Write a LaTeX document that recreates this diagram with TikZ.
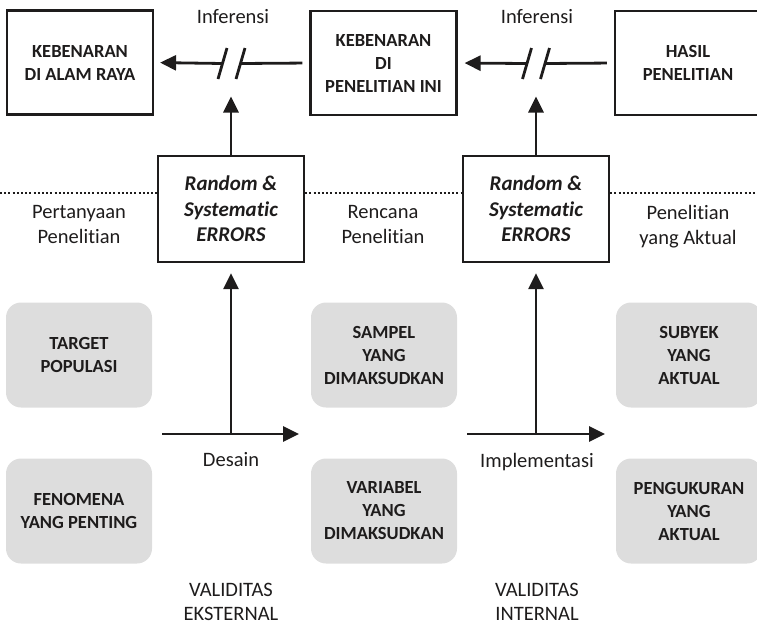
\documentclass[tikz,border=0pt]{standalone}
\usepackage{fontspec}
\setmainfont{Carlito}[Ligatures=NoCommon]
\usetikzlibrary{arrows.meta}
\definecolor{ink}{RGB}{30,28,28}
\definecolor{panel}{RGB}{221,221,221}
\tikzset{
  truthbox/.style={draw=ink, line width=2.2pt, minimum width=146pt, minimum height=104pt,
    align=center, inner sep=0pt, text=ink, font=\fontsize{18.5}{23}\selectfont\bfseries},
  errbox/.style={draw=ink, line width=2.2pt, minimum width=146pt, minimum height=106pt,
    align=center, inner sep=0pt, text=ink, font=\fontsize{21}{25.5}\selectfont\bfseries\itshape},
  stagebox/.style={fill=panel, rounded corners=15pt, minimum width=146pt, minimum height=105pt,
    align=center, inner sep=0pt, text=ink, font=\fontsize{18.5}{23}\selectfont\bfseries},
  caption/.style={align=center, inner sep=0pt, text=ink, font=\fontsize{20.5}{24.5}\selectfont},
  flow/.style={line width=2.8pt, draw=ink, -{Triangle[length=16pt,width=15pt]}},
  plain/.style={line width=2.8pt, draw=ink},
  sepline/.style={line width=2pt, draw=ink, dash pattern=on 2pt off 2.2pt}
}
\begin{document}
\begin{tikzpicture}[x=1pt, y=-1pt]
\useasboundingbox (0,0) rectangle (757,625);

% top row: where the truth lies
\node[truthbox] (b1) at (80,62.5) {KEBENARAN\\DI ALAM RAYA};
\node[truthbox] (b2) at (383.5,63) {KEBENARAN\\DI\\PENELITIAN INI};
\node[truthbox] (b3) at (688,63) {HASIL\\PENELITIAN};

% error boxes
\node[errbox] (e1) at (231,209) {Random \&\\Systematic\\ERRORS};
\node[errbox] (e2) at (536,209) {Random \&\\Systematic\\ERRORS};

% stage boxes
\node[stagebox] (s1) at (79,355) {TARGET\\POPULASI};
\node[stagebox] (s2) at (79,511) {FENOMENA\\YANG PENTING};
\node[stagebox] (s3) at (384,355) {SAMPEL\\YANG\\DIMAKSUDKAN};
\node[stagebox] (s4) at (384,511) {VARIABEL\\YANG\\DIMAKSUDKAN};
\node[stagebox] (s5) at (689,355) {SUBYEK\\YANG\\AKTUAL};
\node[stagebox] (s6) at (689,511) {PENGUKURAN\\YANG\\AKTUAL};

% captions
\node[caption] (inf1) at (233,17) {Inferensi};
\node[caption] (inf2) at (537,17) {Inferensi};
\node[caption] (q1) at (79,224.5) {Pertanyaan\\Penelitian};
\node[caption] (q2) at (383,224.5) {Rencana\\Penelitian};
\node[caption] (q3) at (688,226.5) {Penelitian\\yang Aktual};
\node[caption] (des) at (231,460) {Desain};
\node[caption] (imp) at (537,462) {Implementasi};
\node[caption] (ve) at (231,602) {VALIDITAS\\EKSTERNAL};
\node[caption] (vi) at (537,602) {VALIDITAS\\INTERNAL};

% dotted separator
\coordinate (dl) at (0,193);
\coordinate (dr) at (757,193);
\draw[sepline] (dl) -- (dl -| e1.west);
\draw[sepline] (dl -| e1.east) -- (dl -| e2.west);
\draw[sepline] (dl -| e2.east) -- (dr);

% inference arrows with a break
\coordinate (brk1) at (231.5,63.5);
\coordinate (brk2) at (536,63.5);
\draw[plain, shorten <=7pt] (b2.west) -- ([xshift=9pt]brk1);
\draw[flow, shorten >=6pt] ([xshift=-9pt]brk1) -- (b1.east);
\draw[plain] ([shift={(-13.5,15.5)}]brk1) -- ([shift={(-4.5,-15.5)}]brk1);
\draw[plain] ([shift={(4.5,15.5)}]brk1) -- ([shift={(13.5,-15.5)}]brk1);
\draw[plain, shorten <=7pt] (b3.west) -- ([xshift=9pt]brk2);
\draw[flow, shorten >=7pt] ([xshift=-9pt]brk2) -- (b2.east);
\draw[plain] ([shift={(-13.5,15.5)}]brk2) -- ([shift={(-4.5,-15.5)}]brk2);
\draw[plain] ([shift={(4.5,15.5)}]brk2) -- ([shift={(13.5,-15.5)}]brk2);

% errors feed the inference
\draw[flow, shorten >=33pt] (e1.north) -- (e1.north |- brk1);
\draw[flow, shorten >=33pt] (e2.north) -- (e2.north |- brk2);

% design and implementation steps
\coordinate (d1) at (162,434);
\coordinate (d2) at (299,434);
\coordinate (i1) at (467,434);
\coordinate (i2) at (605,434);
\draw[flow] (d1) -- (d2);
\draw[flow] (i1) -- (i2);
\draw[flow, shorten >=10pt] (e1.south |- d1) -- (e1.south);
\draw[flow, shorten >=10pt] (e2.south |- i1) -- (e2.south);
\end{tikzpicture}
\end{document}
